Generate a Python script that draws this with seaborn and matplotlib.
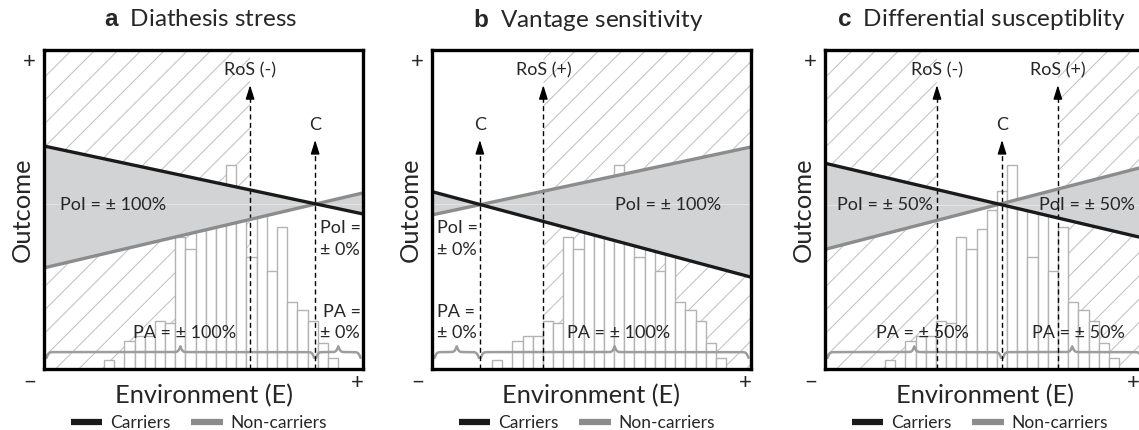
import numpy as np
import pandas as pd
import seaborn as sns
import matplotlib.pyplot as plt
from matplotlib.patches import Polygon
from matplotlib.collections import LineCollection
from matplotlib.lines import Line2D

# panel info
panel_letters = ['a', 'b', 'c']
panel_titles = ['Diathesis stress', 'Vantage sensitivity', 'Differential susceptiblity']

# outcome lines (value at E = 0 and at E = 100)
carriers_left = [69.9, 55.6, 64.5]
carriers_right = [48.6, 28.8, 41.0]
noncarriers_left = [31.7, 48.3, 37.5]
noncarriers_right = [55.2, 69.6, 63.4]

# crossover point and regions of significance
crossover = [85.0, 15.0, 55.5]
ros_neg = [64.6, None, 35.1]
ros_pos = [None, 34.9, 73.0]

# PoI / PA labels left and right of the crossover
poi_left = ['± 100%', '± 0%', '± 50%']
poi_right = ['± 0%', '± 100%', '± 50%']
pa_left = ['± 100%', '± 0%', '± 50%']
pa_right = ['± 0%', '± 100%', '± 50%']

# environment distribution (same in all panels)
env_bin_edges = list(np.linspace(18.8, 92.2, 24))
env_counts = [2.8, 0.4, 8.8, 10.3, 10.3, 15.0, 14.4, 41.4, 37.6, 43.9, 49.8, 55.8,
              63.9, 51.7, 35.1, 51.4, 30.7, 44.5, 21.0, 18.5, 15.0, 8.2, 3.4]

BLACK = '#1a1a1a'
GREY = '#8c8c8c'
BAND = '#d1d3d4'

sns.set_theme(style='white')
plt.rcParams['font.family'] = ['Lato', 'DejaVu Sans']
plt.rcParams['mathtext.fontset'] = 'custom'
plt.rcParams['mathtext.bf'] = 'Liberation Sans:bold'
plt.rcParams['mathtext.rm'] = 'Lato'


def hatch_region(ax, xy):
    patch = Polygon(xy, closed=True, fc='none', ec='none')
    ax.add_patch(patch)
    offs = np.arange(-91.3 - 7.3 * 14, 100, 7.3)
    segs = [[(c, 0), (c + 100, 100)] for c in offs]
    lc = LineCollection(segs, colors='#c2c2c2', linewidths=0.75, zorder=1)
    ax.add_collection(lc)
    lc.set_clip_path(patch)


def brace(ax, x0, x1, base=5.3, amp=3.6, beta=3.0):
    xs = np.linspace(x0, x1, 301)
    half = xs[:151]
    yh = 1 / (1 + np.exp(-beta * (half - half[0]))) + 1 / (1 + np.exp(-beta * (half - half[-1])))
    ys = np.concatenate([yh, yh[-2::-1]])
    ax.plot(xs, base + amp * (ys - 1), color='#9d9d9d', lw=1.8, zorder=4)


def dashed_arrow(ax, x, top, label, label_y):
    ax.plot([x, x], [0, top - 2], color='black', lw=1, ls=(0, (3.6, 2.4)), zorder=4.5)
    ax.annotate('', xy=(x, top), xytext=(x, top - 3.5),
                arrowprops=dict(arrowstyle='-|>,head_length=0.7,head_width=0.22',
                                color='black', lw=1, shrinkA=0, shrinkB=0), zorder=4.5)
    ax.text(x, label_y, label, ha='center', va='center', fontsize=13, zorder=6)


fig = plt.figure(figsize=(11.39, 4.30), dpi=100)
lefts_px = [44, 432, 825]
xs_line = np.linspace(0, 100, 201)
edges = np.array(env_bin_edges)
centers = (edges[:-1] + edges[1:]) / 2
hist_df = pd.DataFrame({'env': centers, 'count': env_counts})

for i, ax_left in enumerate(lefts_px):
    ax = fig.add_axes([ax_left / 1139, 61 / 430, 319 / 1139, 319 / 430])
    cl, cr = carriers_left[i], carriers_right[i]
    nl, nr = noncarriers_left[i], noncarriers_right[i]
    car = cl + (cr - cl) * xs_line / 100
    non = nl + (nr - nl) * xs_line / 100
    upper = np.maximum(car, non)
    lower = np.minimum(car, non)

    # hatched regions of significance
    ranges = []
    if ros_neg[i] is not None:
        ranges.append((0, ros_neg[i]))
    if ros_pos[i] is not None:
        ranges.append((ros_pos[i], 100))
    for xa, xb in ranges:
        m = (xs_line >= xa) & (xs_line <= xb)
        xx = xs_line[m]
        up = np.column_stack([xx, upper[m]])
        hatch_region(ax, np.vstack([up, [[xb, 100], [xa, 100]]]))
        lo = np.column_stack([xx, lower[m]])
        hatch_region(ax, np.vstack([lo, [[xb, 0], [xa, 0]]]))

    # histogram of the environment
    sns.histplot(data=hist_df, x='env', weights='count', bins=env_bin_edges, ax=ax,
                 color='white', edgecolor='#b3b3b3', linewidth=1.0, alpha=1, zorder=2)

    # band between the lines
    ax.fill_between(xs_line, lower, upper, color=BAND, lw=0, zorder=3)
    band = Polygon([(0, cl), (100, cr), (100, nr), (0, nl)], closed=True, fc='none', ec='none')
    ax.add_patch(band)
    cy = cl + (cr - cl) * crossover[i] / 100
    fl, = ax.plot([0, 100], [cy, cy], color='#e4e4e4', lw=0.8, zorder=3.2)
    fl.set_clip_path(band)

    # braces
    c = crossover[i]
    brace(ax, 0.8, c - 0.3)
    brace(ax, c + 0.3, 99.2)

    # dashed arrows
    if ros_neg[i] is not None:
        dashed_arrow(ax, ros_neg[i], 89, 'RoS (-)', 93.7)
    if ros_pos[i] is not None:
        dashed_arrow(ax, ros_pos[i], 89, 'RoS (+)', 93.7)
    dashed_arrow(ax, c, 71.8, 'C', 76.5)

    # outcome lines
    sns.lineplot(x=[0, 100], y=[nl, nr], color=GREY, lw=2.4, ax=ax, zorder=5)
    sns.lineplot(x=[0, 100], y=[cl, cr], color=BLACK, lw=2.4, ax=ax, zorder=5.1)

    # labels inside
    fs = 13
    if i == 0:
        ax.text(21.6, 51.4, 'PoI = ' + poi_left[i], ha='center', va='center', fontsize=fs, zorder=6)
        ax.text(86.5, 44.2, 'PoI =', ha='left', va='center', fontsize=fs, zorder=6)
        ax.text(86.5, 37.3, poi_right[i], ha='left', va='center', fontsize=fs, zorder=6)
        ax.text(44.2, 11.3, 'PA = ' + pa_left[i], ha='center', va='center', fontsize=fs, zorder=6)
        ax.text(87.5, 17.9, 'PA =', ha='left', va='center', fontsize=fs, zorder=6)
        ax.text(86.5, 11.3, pa_right[i], ha='left', va='center', fontsize=fs, zorder=6)
    elif i == 1:
        ax.text(74.0, 51.4, 'PoI = ' + poi_right[i], ha='center', va='center', fontsize=fs, zorder=6)
        ax.text(1.6, 44.2, 'PoI =', ha='left', va='center', fontsize=fs, zorder=6)
        ax.text(1.6, 37.3, poi_left[i], ha='left', va='center', fontsize=fs, zorder=6)
        ax.text(58.6, 11.3, 'PA = ' + pa_right[i], ha='center', va='center', fontsize=fs, zorder=6)
        ax.text(1.6, 17.9, 'PA =', ha='left', va='center', fontsize=fs, zorder=6)
        ax.text(1.6, 11.3, pa_left[i], ha='left', va='center', fontsize=fs, zorder=6)
    else:
        ax.text(18.8, 51.4, 'PoI = ' + poi_left[i], ha='center', va='center', fontsize=fs, zorder=6)
        ax.text(82.0, 51.4, 'PoI = ' + poi_right[i], ha='center', va='center', fontsize=fs, zorder=6)
        ax.text(30.4, 11.3, 'PA = ' + pa_left[i], ha='center', va='center', fontsize=fs, zorder=6)
        ax.text(79.6, 11.3, 'PA = ' + pa_right[i], ha='center', va='center', fontsize=fs, zorder=6)

    ax.set_xlim(0, 100)
    ax.set_ylim(0, 100)
    ax.set_xticks([])
    ax.set_yticks([])
    ax.set_xlabel('')
    ax.set_ylabel('')
    for sp in ax.spines.values():
        sp.set_visible(True)
        sp.set_color('black')
        sp.set_linewidth(2.4)
        sp.set_zorder(10)

    # outside text
    ax.text(0.49, (369 - 20) / 319, r'$\mathbf{' + panel_letters[i] + '}$  ' + panel_titles[i],
            transform=ax.transAxes, ha='center', va='center', fontsize=17.5)
    ax.text(0.5, -0.082, 'Environment (E)', transform=ax.transAxes, ha='center', va='center',
            fontsize=18.3)
    ax.text(-0.069, 0.5, 'Outcome', transform=ax.transAxes, ha='center', va='center',
            rotation=90, fontsize=18.3)
    right_plus = 0.966 if i == 2 else 0.982
    ax.text(-0.045, 0.962, '+', transform=ax.transAxes, ha='center', va='center', fontsize=16)
    ax.text(-0.045, -0.044, '−', transform=ax.transAxes, ha='center', va='center', fontsize=16)
    ax.text(right_plus, -0.044, '+', transform=ax.transAxes, ha='center', va='center', fontsize=16)

    handles = [Line2D([], [], color=BLACK, lw=4.5, solid_capstyle='butt'),
               Line2D([], [], color=GREY, lw=4.5, solid_capstyle='butt')]
    ax.legend(handles, ['Carriers', 'Non-carriers'], loc='center', bbox_to_anchor=(0.486, -0.169),
              ncol=2, frameon=False, fontsize=12.5, handlelength=1.8, handletextpad=0.45,
              columnspacing=1.2, borderaxespad=0)

fig.savefig('out.png', dpi=100)
